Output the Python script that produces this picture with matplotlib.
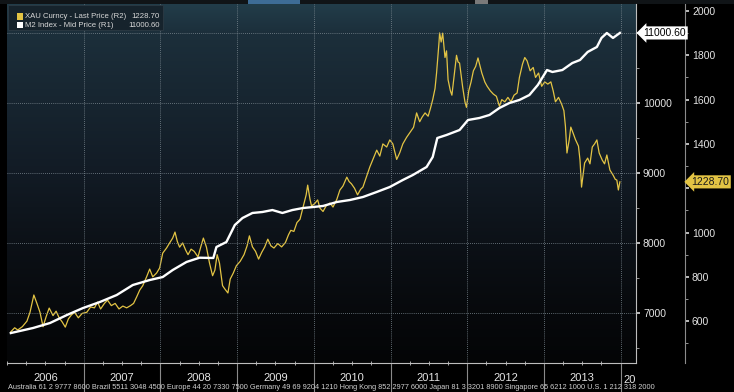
import numpy as np
import matplotlib
matplotlib.use('Agg')
import matplotlib.pyplot as plt
import matplotlib.transforms as mtransforms
from matplotlib.colors import LinearSegmentedColormap
from matplotlib.patches import Rectangle
from matplotlib.ticker import MultipleLocator, FixedLocator, FuncFormatter, NullFormatter

plt.rcParams['font.family'] = ['Liberation Sans', 'DejaVu Sans']

# M2 money stock (R1), time in decimal years
m2_t = [2006.05, 2006.34, 2006.56, 2006.78, 2006.99, 2007.21, 2007.43, 2007.64, 2007.86,
        2008.03, 2008.16, 2008.34, 2008.51, 2008.69, 2008.73, 2008.86, 2008.97, 2009.07,
        2009.20, 2009.33, 2009.46, 2009.59, 2009.72, 2009.86, 2009.99, 2010.12, 2010.30,
        2010.47, 2010.64, 2010.82, 2010.99, 2011.16, 2011.29, 2011.47, 2011.55, 2011.61,
        2011.73, 2011.90, 2012.01, 2012.16, 2012.29, 2012.42, 2012.55, 2012.68, 2012.81,
        2012.92, 2013.04, 2013.11, 2013.24, 2013.37, 2013.47, 2013.57, 2013.69, 2013.75,
        2013.82, 2013.90, 2013.99]
m2_val = [6714, 6786, 6857, 6971, 7071, 7157, 7257, 7400, 7471,
          7514, 7614, 7729, 7790, 7786, 7943, 8014, 8257, 8357,
          8429, 8443, 8471, 8429, 8471, 8500, 8514, 8529, 8586,
          8614, 8657, 8729, 8800, 8900, 8971, 9086, 9229, 9500,
          9543, 9614, 9757, 9786, 9829, 9929, 10000, 10043, 10114,
          10257, 10471, 10443, 10471, 10571, 10614, 10729, 10800, 10929,
          11000, 10929, 11000.60]

# Gold spot (R2)
gold_t = [2006.05, 2006.10, 2006.14, 2006.20, 2006.26, 2006.30, 2006.35, 2006.39, 2006.43, 2006.47,
          2006.51, 2006.55, 2006.60, 2006.64, 2006.68, 2006.72, 2006.76, 2006.80, 2006.84, 2006.88,
          2006.93, 2006.98, 2007.04, 2007.09, 2007.14, 2007.18, 2007.22, 2007.27, 2007.31, 2007.36,
          2007.41, 2007.46, 2007.51, 2007.56, 2007.61, 2007.65, 2007.69, 2007.73, 2007.77, 2007.82,
          2007.86, 2007.90, 2007.95, 2007.99, 2008.03, 2008.08, 2008.12, 2008.16, 2008.19, 2008.22,
          2008.25, 2008.29, 2008.33, 2008.36, 2008.40, 2008.44, 2008.49, 2008.53, 2008.56, 2008.60,
          2008.64, 2008.68, 2008.71, 2008.74, 2008.77, 2008.81, 2008.84, 2008.88, 2008.91, 2008.95,
          2008.99, 2009.04, 2009.09, 2009.13, 2009.16, 2009.20, 2009.24, 2009.28, 2009.32, 2009.36,
          2009.40, 2009.44, 2009.48, 2009.53, 2009.58, 2009.63, 2009.67, 2009.70, 2009.74, 2009.78,
          2009.82, 2009.86, 2009.90, 2009.92, 2009.95, 2009.97, 2010.01, 2010.05, 2010.08, 2010.12,
          2010.16, 2010.21, 2010.25, 2010.30, 2010.34, 2010.38, 2010.43, 2010.46, 2010.49, 2010.53,
          2010.57, 2010.61, 2010.64, 2010.68, 2010.73, 2010.77, 2010.82, 2010.86, 2010.90, 2010.95,
          2010.99, 2011.03, 2011.08, 2011.12, 2011.16, 2011.21, 2011.25, 2011.30, 2011.34, 2011.38,
          2011.41, 2011.45, 2011.49, 2011.52, 2011.55, 2011.58, 2011.60, 2011.63, 2011.64, 2011.66,
          2011.68, 2011.70, 2011.71, 2011.73, 2011.75, 2011.78, 2011.80, 2011.82, 2011.84, 2011.86,
          2011.88, 2011.90, 2011.92, 2011.94, 2011.97, 2011.99, 2012.02, 2012.05, 2012.08, 2012.11,
          2012.14, 2012.16, 2012.19, 2012.23, 2012.26, 2012.30, 2012.34, 2012.38, 2012.42, 2012.45,
          2012.49, 2012.53, 2012.57, 2012.61, 2012.65, 2012.68, 2012.72, 2012.75, 2012.78, 2012.82,
          2012.86, 2012.89, 2012.93, 2012.97, 2013.01, 2013.05, 2013.09, 2013.12, 2013.15, 2013.19,
          2013.23, 2013.26, 2013.28, 2013.30, 2013.33, 2013.35, 2013.38, 2013.41, 2013.45, 2013.47,
          2013.49, 2013.51, 2013.53, 2013.57, 2013.60, 2013.63, 2013.66, 2013.69, 2013.72, 2013.76,
          2013.79, 2013.82, 2013.86, 2013.90, 2013.93, 2013.95, 2013.97, 2013.99]
gold_px = [552, 570, 560, 575, 600, 640, 718, 680, 640, 575,
           620, 659, 625, 645, 615, 596, 573, 610, 628, 640,
           615, 635, 640, 664, 660, 686, 655, 680, 695, 670,
           680, 655, 668, 660, 670, 680, 709, 740, 760, 800,
           835, 800, 817, 840, 907, 930, 953, 975, 1002, 960,
           934, 953, 920, 900, 925, 915, 890, 940, 975, 934,
           862, 805, 830, 900, 862, 760, 745, 727, 790, 817,
           850, 870, 900, 940, 985, 935, 915, 880, 910, 935,
           970, 940, 930, 950, 935, 955, 990, 1010, 1005, 1045,
           1060, 1115, 1170, 1214, 1150, 1120, 1130, 1147, 1110, 1095,
           1120, 1133, 1115, 1150, 1192, 1210, 1250, 1230, 1220, 1200,
           1170, 1195, 1205, 1245, 1296, 1330, 1372, 1345, 1400, 1386,
           1418, 1400, 1330, 1360, 1400, 1430, 1450, 1475, 1540, 1500,
           1520, 1540, 1525, 1560, 1600, 1650, 1720, 1850, 1901, 1860,
           1900, 1830, 1790, 1820, 1690, 1640, 1620, 1680, 1740, 1800,
           1770, 1765, 1710, 1657, 1590, 1565, 1640, 1680, 1730, 1750,
           1788, 1760, 1720, 1679, 1660, 1640, 1625, 1615, 1570, 1600,
           1590, 1610, 1590, 1620, 1630, 1700, 1760, 1790, 1775, 1730,
           1745, 1700, 1720, 1660, 1680, 1670, 1680, 1640, 1590, 1610,
           1580, 1550, 1480, 1359, 1420, 1476, 1449, 1420, 1390, 1327,
           1205, 1260, 1314, 1336, 1310, 1386, 1400, 1418, 1359, 1327,
           1310, 1350, 1282, 1260, 1240, 1237, 1192, 1228.70]

year_labels = [2006, 2007, 2008, 2009, 2010, 2011, 2012, 2013]
gold_name = 'XAU Curncy - Last Price (R2)'
m2_name = 'M2 Index - Mid Price (R1)'
footer = ('Australia 61 2 9777 8600 Brazil 5511 3048 4500 Europe 44 20 7330 7500 Germany 49 69 9204 1210 '
          'Hong Kong 852 2977 6000 Japan 81 3 3201 8900 Singapore 65 6212 1000 U.S. 1 212 318 2000')

gold_col = '#e3c444'
txt_col = '#e4e4e4'

fig = plt.figure(figsize=(7.34, 3.92), dpi=100, facecolor='black')
pos = [7 / 734, 1 - 363 / 392, 629 / 734, 359 / 392]

# gradient background
bg = fig.add_axes(pos)
cmap = LinearSegmentedColormap.from_list('bbg', [
    (0.0, '#040506'), (0.139, '#07090c'), (0.334, '#0c1117'), (0.529, '#121b25'),
    (0.724, '#172530'), (0.919, '#1c2f3b'), (1.0, '#223d4a')])
bg.imshow(np.linspace(0, 1, 256).reshape(-1, 1), cmap=cmap, origin='lower',
          aspect='auto', extent=[0, 1, 0, 1])
bg.axis('off')

ax1 = fig.add_axes(pos)
ax1.patch.set_alpha(0)
ax2 = ax1.twinx()
ax2.patch.set_alpha(0)
# white line (ax1) drawn above gold (ax2)
ax1.set_zorder(2)
ax2.set_zorder(1)

ax2.plot(gold_t, gold_px, color=gold_col, lw=0.9)
ax1.plot(m2_t, m2_val, color='white', lw=1.7)

ax1.set_xlim(2006.0, 2014.2)
ax1.set_ylim(6286, 11414)
ax2.set_ylim(411, 2031.6)

# x axis: year separators as long major ticks, labels on mid-year minor ticks
ax1.xaxis.set_major_locator(FixedLocator(range(2007, 2015)))
ax1.xaxis.set_major_formatter(NullFormatter())
ax1.xaxis.set_minor_locator(MultipleLocator(0.25))
ax1.xaxis.set_minor_formatter(FuncFormatter(
    lambda x, p: str(int(x)) if abs(x - int(x) - 0.5) < 0.01 and int(x) in year_labels else ''))
ax1.tick_params(axis='x', which='major', direction='out', length=21, width=0.8, color='#8a8a8a')
ax1.tick_params(axis='x', which='minor', direction='inout', length=3, width=0.6, color='#c8c8c8',
                pad=6, labelsize=8, labelcolor=txt_col)
ax1.text(2014.04, -0.033, '20', transform=ax1.get_xaxis_transform(), color=txt_col,
         fontsize=8, ha='left', va='top')

# R1 axis (the 11000 label sits under the last value tag)
ax1.yaxis.tick_right()
ax1.yaxis.set_major_locator(MultipleLocator(1000))
ax1.yaxis.set_minor_locator(MultipleLocator(500))
ax1.yaxis.set_major_formatter(FuncFormatter(lambda v, p: '' if v >= 11000 else '%d' % v))
ax1.tick_params(axis='y', which='major', direction='out', length=3, width=1.2, color='#dddddd',
                labelsize=7.5, labelcolor=txt_col, pad=2, left=False, labelleft=False)
ax1.tick_params(axis='y', which='minor', direction='out', length=2, width=0.6, color='#aaaaaa',
                left=False)

ax1.grid(which='major', color='#7d8a92', linestyle=(0, (1, 1.5)), linewidth=0.6)

# R2 axis (the 1200 label sits under the gold tag)
ax2.spines['right'].set_position(('outward', 35.3))
ax2.yaxis.set_major_locator(MultipleLocator(200))
ax2.yaxis.set_minor_locator(MultipleLocator(100))
ax2.yaxis.set_major_formatter(FuncFormatter(lambda v, p: '' if v == 1200 else '%d' % v))
ax2.tick_params(axis='y', which='major', direction='out', length=3, width=1.2, color='#dddddd',
                labelsize=7.5, labelcolor=txt_col, pad=2)
ax2.tick_params(axis='y', which='minor', direction='out', length=2, width=0.6, color='#aaaaaa')

for s in ['top', 'left']:
    ax1.spines[s].set_visible(False)
for s in ['bottom', 'right']:
    ax1.spines[s].set_color('#bdbdbd')
    ax1.spines[s].set_linewidth(0.8)
for s in ['top', 'left', 'bottom']:
    ax2.spines[s].set_visible(False)
ax2.spines['right'].set_color('#8c8c8c')
ax2.spines['right'].set_linewidth(0.8)

# legend box
ax1.add_patch(Rectangle((0.0016, 0.928), 0.246, 0.069, transform=ax1.transAxes,
                        facecolor='#16232c', edgecolor='#2c3a44', lw=0.6, zorder=4))
ax1.add_patch(Rectangle((0.0160, 0.955), 0.0095, 0.019, transform=ax1.transAxes,
                        facecolor=gold_col, edgecolor='none', zorder=5))
ax1.add_patch(Rectangle((0.0160, 0.932), 0.0095, 0.019, transform=ax1.transAxes,
                        facecolor='white', edgecolor='none', zorder=5))
ax1.text(0.0285, 0.964, gold_name, transform=ax1.transAxes, fontsize=5.6, color='#d8d8d8',
         va='center', ha='left', zorder=6)
ax1.text(0.0285, 0.941, m2_name, transform=ax1.transAxes, fontsize=5.6, color='#d8d8d8',
         va='center', ha='left', zorder=6)
ax1.text(0.243, 0.964, '%.2f' % gold_px[-1], transform=ax1.transAxes, fontsize=5.6,
         color='#d8d8d8', va='center', ha='right', zorder=6)
ax1.text(0.243, 0.941, '%.2f' % m2_val[-1], transform=ax1.transAxes, fontsize=5.6,
         color='#d8d8d8', va='center', ha='right', zorder=6)

# last value tags
tr1 = mtransforms.blended_transform_factory(ax1.transAxes, ax1.transData)
ax1.text(1.012, m2_val[-1], '%.2f' % m2_val[-1], transform=tr1, fontsize=7.5, color='black',
         ha='left', va='center', clip_on=False, zorder=10,
         bbox=dict(boxstyle='larrow,pad=0.15', fc='white', ec='none'))
tr2 = mtransforms.blended_transform_factory(ax2.transAxes, ax2.transData)
ax2.text(1.088, gold_px[-1], '%.2f' % gold_px[-1], transform=tr2, fontsize=7.5, color='#1a1a1a',
         ha='left', va='center', clip_on=False, zorder=10,
         bbox=dict(boxstyle='larrow,pad=0.15', fc=gold_col, ec='none'))

# top toolbar strip and footer line
fig.patches.append(Rectangle((0, 1 - 4 / 392), 1, 4 / 392, transform=fig.transFigure,
                             facecolor='#101417', edgecolor='none'))
fig.patches.append(Rectangle((248 / 734, 1 - 4 / 392), 52 / 734, 4 / 392, transform=fig.transFigure,
                             facecolor='#3d6c96', edgecolor='none'))
fig.patches.append(Rectangle((475 / 734, 1 - 4 / 392), 13 / 734, 4 / 392, transform=fig.transFigure,
                             facecolor='#7a7a7a', edgecolor='none'))
fig.text(8 / 734, 1 / 392, footer, fontsize=5.3, color='#cfcfcf', ha='left', va='bottom')

fig.savefig('out.png', dpi=100, facecolor='black')
